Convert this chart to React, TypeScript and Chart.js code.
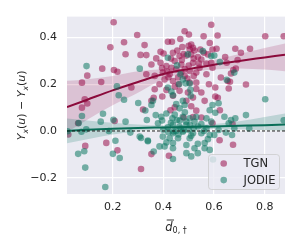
import React, { useEffect, useRef } from "react";
import { Chart, registerables } from "chart.js";
Chart.register(...registerables);

const seriesNames = ["TGN", "JODIE"];

const tgnX = [
  0.204, 0.297, 0.245, 0.191, 0.251, 0.31, 0.159, 0.205, 0.219, 0.1, 0.079, 0.155, 0.274, 0.09, 0.1, 0.079,
  0.208, 0.064, 0.092, 0.175, 0.219, 0.312, 0.025, 0.326, 0.333, 0.589, 0.484, 0.501, 0.467, 0.559, 0.418,
  0.434, 0.51, 0.517, 0.583, 0.523, 0.504, 0.546, 0.389, 0.401, 0.438, 0.464, 0.473, 0.491, 0.51, 0.536,
  0.55, 0.576, 0.372, 0.389, 0.353, 0.412, 0.432, 0.451, 0.471, 0.517, 0.57, 0.589, 0.333, 0.366, 0.398,
  0.425, 0.458, 0.484, 0.504, 0.53, 0.543, 0.57, 0.405, 0.438, 0.504, 0.53, 0.58, 0.385, 0.366, 0.412,
  0.464, 0.497, 0.55, 0.438, 0.517, 0.491, 0.353, 0.563, 0.614, 0.802, 0.875, 0.61, 0.684, 0.742, 0.706,
  0.644, 0.693, 0.65, 0.594, 0.686, 0.667, 0.676, 0.627, 0.654, 0.663, 0.726, 0.605, 0.658, 0.605, 0.594,
  0.32, 0.428, 0.445, 0.51, 0.53, 0.55, 0.48, 0.353, 0.422, 0.623, 0.673, 0.622, 0.675, 0.594, 0.362,
  0.396, 0.615, 0.517, 0.445, 0.48, 0.455, 0.52, 0.5, 0.485, 0.47, 0.54, 0.43, 0.415, 0.46, 0.52, 0.495,
  0.445, 0.53, 0.475, 0.5, 0.56, 0.395, 0.42,
];
const tgnY = [
  0.466, 0.411, 0.38, 0.359, 0.329, 0.326, 0.267, 0.261, 0.254, 0.237, 0.207, 0.21, 0.186, 0.136, 0.118, 0.1,
  0.043, 0.033, -0.064, -0.051, -0.083, -0.163, -0.015, 0.368, 0.325, 0.455, 0.427, 0.413, 0.394, 0.406, 0.382,
  0.382, 0.37, 0.356, 0.377, 0.345, 0.349, 0.349, 0.339, 0.332, 0.335, 0.321, 0.304, 0.323, 0.328, 0.317,
  0.306, 0.328, 0.311, 0.292, 0.285, 0.278, 0.271, 0.264, 0.285, 0.292, 0.289, 0.292, 0.243, 0.236, 0.25,
  0.243, 0.229, 0.236, 0.257, 0.25, 0.271, 0.243, 0.221, 0.214, 0.207, 0.207, 0.2, 0.2, 0.179, 0.176,
  0.172, 0.165, 0.165, 0.151, 0.143, 0.129, 0.129, 0.129, 0.409, 0.406, 0.406, 0.352, 0.352, 0.352, 0.335,
  0.317, 0.304, 0.292, 0.271, 0.267, 0.246, 0.261, 0.229, 0.214, 0.211, 0.199, 0.186, 0.182, 0.148, 0.349,
  0.092, 0.089, 0.101, 0.106, 0.087, 0.058, 0.058, -0.099, -0.106, 0.089, 0.03, -0.04, -0.059, 0.033, 0.142,
  0.148, 0.142, 0.06, 0.3, 0.33, 0.345, 0.31, 0.28, 0.265, 0.25, 0.29, 0.31, 0.255, 0.2, 0.235, 0.225,
  0.19, 0.18, 0.36, 0.365, 0.335, 0.27, 0.23,
];

const jodieX = [
  0.097, 0.307, 0.217, 0.224, 0.245, 0.301, 0.329, 0.162, 0.079, 0.203, 0.251, 0.066, 0.153, 0.022, 0.077,
  0.096, 0.185, 0.27, 0.312, 0.339, 0.064, 0.088, 0.211, 0.201, 0.228, 0.092, 0.171, 0.418, 0.454, 0.497,
  0.556, 0.589, 0.467, 0.477, 0.488, 0.504, 0.462, 0.507, 0.418, 0.432, 0.438, 0.508, 0.359, 0.477, 0.451,
  0.601, 0.623, 0.68, 0.65, 0.802, 0.618, 0.353, 0.335, 0.37, 0.392, 0.412, 0.464, 0.484, 0.583, 0.436,
  0.454, 0.477, 0.504, 0.523, 0.57, 0.589, 0.379, 0.438, 0.464, 0.491, 0.537, 0.57, 0.418, 0.307, 0.339,
  0.438, 0.477, 0.517, 0.55, 0.583, 0.398, 0.425, 0.458, 0.504, 0.576, 0.412, 0.438, 0.536, 0.563, 0.385,
  0.405, 0.491, 0.523, 0.563, 0.362, 0.438, 0.491, 0.51, 0.438, 0.536, 0.583, 0.605, 0.641, 0.667, 0.684,
  0.726, 0.658, 0.68, 0.618, 0.739, 0.647, 0.671, 0.601, 0.594, 0.875, 0.596, 0.4, 0.45, 0.47, 0.5, 0.52,
  0.43, 0.49, 0.46, 0.51, 0.55, 0.53, 0.445, 0.395, 0.485, 0.42, 0.56, 0.505, 0.465, 0.44, 0.48,
];
const jodieY = [
  0.278, 0.267, 0.191, 0.153, 0.134, 0.12, 0.088, 0.074, 0.064, 0.048, 0.04, 0.034, 0.04, -0.001, -0.003,
  0.007, 0.0, -0.007, -0.03, -0.044, -0.098, -0.087, -0.042, -0.098, -0.116, -0.157, -0.24, 0.314, 0.281, 0.328,
  0.342, 0.321, 0.243, 0.221, 0.204, 0.203, 0.2, 0.176, 0.186, 0.169, 0.153, 0.151, 0.129, 0.129, 0.115,
  0.323, 0.295, 0.25, 0.219, 0.136, 0.119, 0.111, 0.047, 0.068, 0.061, 0.075, 0.097, 0.111, 0.089, 0.054,
  0.047, 0.061, 0.054, 0.04, 0.054, 0.04, 0.033, 0.026, 0.019, 0.026, 0.019, 0.011, 0.016, -0.024, -0.041,
  -0.01, -0.003, -0.01, -0.01, -0.017, -0.024, -0.031, -0.031, -0.031, -0.035, -0.049, -0.052, -0.055, -0.052, -0.066,
  -0.066, -0.06, -0.074, -0.074, -0.088, -0.074, -0.095, -0.109, -0.12, -0.095, -0.081, 0.078, 0.061, 0.047, 0.054,
  0.068, 0.033, 0.011, 0.004, 0.011, -0.007, -0.017, -0.017, 0.111, 0.046, -0.122, 0.005, 0.0, 0.01, 0.005, 0.012,
  0.035, 0.04, -0.015, -0.02, 0.03, 0.06, 0.07, 0.045, 0.08, -0.005, 0.0, 0.025, 0.045, -0.002, 0.002,
];

const fitX = [0.02, 0.1, 0.2, 0.3, 0.4, 0.5, 0.6, 0.7, 0.8, 0.88];
const tgnFit = [0.102, 0.134, 0.174, 0.21, 0.244, 0.265, 0.284, 0.3, 0.315, 0.327];
const tgnUpper = [0.215, 0.222, 0.236, 0.256, 0.266, 0.281, 0.305, 0.33, 0.355, 0.375];
const tgnLower = [-0.005, 0.048, 0.11, 0.164, 0.222, 0.249, 0.263, 0.268, 0.263, 0.256];
const jodieFit = [0.0, 0.005, 0.01, 0.013, 0.015, 0.017, 0.019, 0.022, 0.025, 0.028];
const jodieUpper = [0.053, 0.045, 0.035, 0.028, 0.024, 0.025, 0.03, 0.042, 0.06, 0.075];
const jodieLower = [-0.053, -0.035, -0.015, -0.002, 0.006, 0.009, 0.009, 0.007, 0.003, 0.0];
const zeroX = [0.02, 0.88];
const zeroY = [0, 0];

const xTicks = [0.2, 0.4, 0.6, 0.8];
const yTicks = [-0.2, 0.0, 0.2, 0.4];

const TGN_PT = "rgba(153,15,75,0.55)";
const JOD_PT = "rgba(12,120,98,0.55)";
const FONT = "DejaVu Sans";

const pts = (xs: number[], ys: number[]) => xs.map((x, i) => ({ x, y: ys[i] }));
const fmt = (v: number) => Number(v).toFixed(1).replace("-", "\u2212");

const bgPlugin = {
  id: "bg",
  beforeDraw(chart: any) {
    const { ctx, chartArea: a } = chart;
    ctx.save();
    ctx.fillStyle = "#eaeaf2";
    ctx.fillRect(a.left, a.top, a.right - a.left, a.bottom - a.top);
    ctx.restore();
  },
};

type Piece = { t: string; it?: boolean; sub?: boolean };
function drawPieces(ctx: CanvasRenderingContext2D, pieces: Piece[], size: number, cx: number) {
  const fontOf = (p: Piece) => `${p.it ? "oblique " : ""}${p.sub ? size * 0.7 : size}px ${FONT}`;
  let total = 0;
  const widths = pieces.map((p) => {
    ctx.font = fontOf(p);
    const w = ctx.measureText(p.t).width;
    total += w;
    return w;
  });
  let x = cx - total / 2;
  const pos: number[] = [];
  pieces.forEach((p, i) => {
    ctx.font = fontOf(p);
    ctx.fillText(p.t, x, p.sub ? size * 0.25 : 0);
    pos.push(x);
    x += widths[i];
  });
  return { pos, widths };
}

const titlePlugin = {
  id: "titles",
  afterDraw(chart: any) {
    const { ctx, chartArea: a } = chart;
    ctx.save();
    ctx.fillStyle = "#262626";
    ctx.textBaseline = "alphabetic";
    ctx.textAlign = "left";
    ctx.save();
    ctx.translate(25, (a.top + a.bottom) / 2);
    ctx.rotate(-Math.PI / 2);
    const yPieces: Piece[] = [
      { t: "Y", it: true }, { t: "x", it: true, sub: true }, { t: "(" }, { t: "u", it: true }, { t: ")" },
      { t: " \u2212 " },
      { t: "Y", it: true }, { t: "x", it: true, sub: true }, { t: "(" }, { t: "u", it: true }, { t: ")" },
    ];
    drawPieces(ctx, yPieces, 11, 0);
    ctx.restore();
    ctx.save();
    ctx.translate(0, 230.5);
    const xPieces: Piece[] = [{ t: "d", it: true }, { t: "0, \u2020", sub: true }];
    const r = drawPieces(ctx, xPieces, 11.5, (a.left + a.right) / 2);
    ctx.strokeStyle = "#262626";
    ctx.lineWidth = 0.9;
    ctx.beginPath();
    ctx.moveTo(r.pos[0] + 1.5, -10.5);
    ctx.lineTo(r.pos[0] + r.widths[0] + 1.5, -10.5);
    ctx.stroke();
    ctx.restore();
    ctx.restore();
  },
};

const legendPlugin = {
  id: "customLegend",
  afterDraw(chart: any) {
    const { ctx, chartArea: a } = chart;
    const w = 71, h = 35;
    const x = a.right - 6 - w, y = a.bottom - 5 - h;
    ctx.save();
    ctx.beginPath();
    (ctx as any).roundRect(x + 0.5, y + 0.5, w, h, 3);
    ctx.fillStyle = "rgba(234,234,242,0.8)";
    ctx.fill();
    ctx.strokeStyle = "rgba(204,204,204,0.8)";
    ctx.lineWidth = 1;
    ctx.stroke();
    const colors = [TGN_PT, JOD_PT];
    seriesNames.forEach((name, i) => {
      const cy = y + 9.5 + i * 16.6;
      ctx.beginPath();
      ctx.arc(x + 15.7, cy, 3.3, 0, Math.PI * 2);
      ctx.fillStyle = colors[i];
      ctx.fill();
      ctx.fillStyle = "#262626";
      ctx.font = `11.5px ${FONT}`;
      ctx.textBaseline = "middle";
      ctx.textAlign = "left";
      ctx.fillText(name, x + 35.5, cy + 0.5);
    });
    ctx.restore();
  },
};

export default function App() {
  const ref = useRef<HTMLCanvasElement>(null);
  useEffect(() => {
    if (!ref.current) return;
    const lineDs = (data: any, color: string, order: number) => ({
      type: "line",
      data,
      borderColor: color,
      borderWidth: 2,
      pointRadius: 0,
      fill: false,
      cubicInterpolationMode: "monotone",
      order,
      clip: 0,
    });
    const bandEdge = (data: any, order: number, fill: any, bg: string) => ({
      type: "line",
      data,
      borderColor: "transparent",
      borderWidth: 0,
      pointRadius: 0,
      fill,
      backgroundColor: bg,
      cubicInterpolationMode: "monotone",
      order,
      clip: 0,
    });
    const chart = new Chart(ref.current, {
      type: "scatter",
      data: {
        datasets: [
          { label: seriesNames[0], data: pts(tgnX, tgnY), backgroundColor: TGN_PT, pointRadius: 3.3, pointBorderWidth: 0, borderWidth: 0, order: 7, clip: 0 } as any,
          bandEdge(pts(fitX, tgnUpper), 6, false, "transparent"),
          bandEdge(pts(fitX, tgnLower), 6, "-1", "rgba(153,15,75,0.18)"),
          lineDs(pts(fitX, tgnFit), "#8b0a3b", 5),
          { label: seriesNames[1], data: pts(jodieX, jodieY), backgroundColor: JOD_PT, pointRadius: 3.3, pointBorderWidth: 0, borderWidth: 0, order: 4, clip: 0 } as any,
          bandEdge(pts(fitX, jodieUpper), 3, false, "transparent"),
          bandEdge(pts(fitX, jodieLower), 3, "-1", "rgba(12,120,98,0.2)"),
          lineDs(pts(fitX, jodieFit), "#0a6e58", 2),
          {
            type: "line",
            data: pts(zeroX, zeroY),
            borderColor: "#1a1a1a",
            borderWidth: 1,
            borderDash: [3, 2],
            pointRadius: 0,
            fill: false,
            order: 0,
            clip: 0,
          } as any,
        ] as any,
      },
      options: {
        animation: false,
        responsive: false,
        devicePixelRatio: 1,
        layout: { padding: { top: 14, right: 14, left: 0, bottom: 0 } },
        plugins: { legend: { display: false }, tooltip: { enabled: false } },
        scales: {
          x: {
            type: "linear",
            min: 0.02,
            max: 0.88,
            afterBuildTicks: (s: any) => { s.ticks = xTicks.map((v) => ({ value: v })); },
            afterFit: (s: any) => { s.height = 55; },
            grid: { color: "#ffffff", lineWidth: 1.2, drawTicks: false },
            border: { display: false },
            ticks: { padding: 7, color: "#262626", font: { family: FONT, size: 11 }, maxRotation: 0, autoSkip: false, callback: (v: any) => fmt(v) },
          },
          y: {
            type: "linear",
            min: -0.27,
            max: 0.49,
            afterBuildTicks: (s: any) => { s.ticks = yTicks.map((v) => ({ value: v })); },
            afterFit: (s: any) => { s.width = 67; },
            grid: { color: "#ffffff", lineWidth: 1.2, drawTicks: false },
            border: { display: false },
            ticks: { padding: 10, color: "#262626", font: { family: FONT, size: 11 }, autoSkip: false, callback: (v: any) => fmt(v) },
          },
        },
      },
      plugins: [bgPlugin, titlePlugin, legendPlugin],
    } as any);
    return () => chart.destroy();
  }, []);
  return (
    <div style={{ position: "fixed", left: 0, top: 0, width: 299, height: 249, background: "#ffffff" }}>
      <canvas ref={ref} width={299} height={249} style={{ width: 299, height: 249, display: "block" }} />
    </div>
  );
}
